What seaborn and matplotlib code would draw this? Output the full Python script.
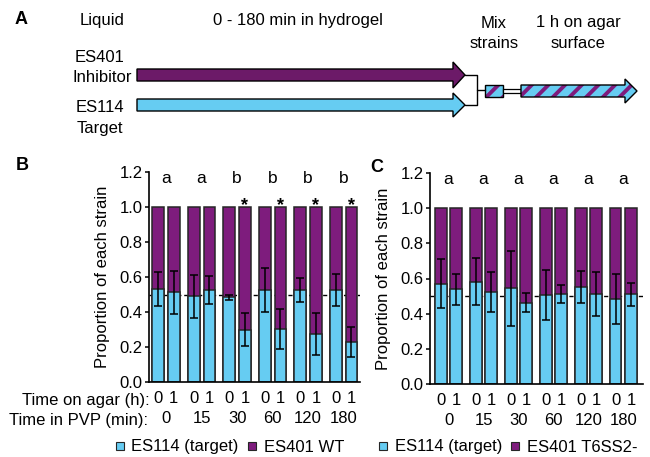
import numpy as np
import pandas as pd
import matplotlib
matplotlib.use("Agg")
import matplotlib.pyplot as plt
from matplotlib.patches import Polygon, Rectangle
from matplotlib.lines import Line2D
import seaborn as sns

# ---------------- data ----------------
pvp_times = ["0", "15", "30", "60", "120", "180"]
agar_times = ["0", "1"]

# Panel B: ES114 (target) vs ES401 WT -- target proportion (order: PVP time, agar 0 then 1)
wt_target_mean = [0.532, 0.513, 0.490, 0.527, 0.485, 0.300,
                  0.527, 0.305, 0.527, 0.275, 0.527, 0.228]
wt_target_err = [0.095, 0.122, 0.123, 0.080, 0.015, 0.095,
                 0.126, 0.115, 0.070, 0.120, 0.092, 0.087]
wt_total = [1.0, 1.0, 1.0, 1.0, 1.0, 1.0, 1.0, 1.0, 1.0, 1.0, 1.0, 1.0]
wt_letters = ["a", "a", "b", "b", "b", "b"]
wt_star = [False, False, True, True, True, True]

# Panel C: ES114 (target) vs ES401 T6SS2-
t6_target_mean = [0.571, 0.538, 0.582, 0.525, 0.544, 0.462,
                  0.506, 0.510, 0.552, 0.511, 0.483, 0.511]
t6_target_err = [0.139, 0.086, 0.133, 0.114, 0.215, 0.053,
                 0.140, 0.051, 0.091, 0.124, 0.141, 0.065]
t6_total = [1.0, 1.0, 1.0, 1.0, 1.0, 1.0, 1.0, 1.0, 1.0, 1.0, 1.0, 1.0]
t6_letters = ["a", "a", "a", "a", "a", "a"]
t6_star = [False, False, False, False, False, False]

PURPLE = "#7E1C7D"
PURPLE_ARROW = "#6C1A68"
CYAN = "#66CCF2"
EDGE = "#262626"

sns.set_style("ticks")
plt.rcParams['font.family'] = ['Liberation Sans', 'DejaVu Sans']
plt.rcParams['hatch.linewidth'] = 2.8
plt.rcParams['hatch.color'] = PURPLE
for k in ('text.color', 'axes.labelcolor', 'xtick.color', 'ytick.color'):
    plt.rcParams[k] = 'black'

fig = plt.figure(figsize=(6.5, 4.57), dpi=100)

# ---------------- panel A (schematic, pixel coords) ----------------
ax0 = fig.add_axes([0, 0, 1, 1], zorder=-1)
ax0.set_xlim(0, 650)
ax0.set_ylim(457, 0)
ax0.axis('off')

FS = 12
ax0.text(21, 19, "A", fontsize=13, fontweight='bold', ha='center', va='center')
ax0.text(102, 21, "Liquid", fontsize=FS, ha='center', va='center')
ax0.text(298, 21, "0 - 180 min in hydrogel", fontsize=FS, ha='center', va='center')
ax0.text(494, 23, "Mix", fontsize=FS, ha='center', va='center')
ax0.text(494, 43, "strains", fontsize=FS, ha='center', va='center')
ax0.text(578, 23, "1 h on agar", fontsize=FS, ha='center', va='center')
ax0.text(578, 43, "surface", fontsize=FS, ha='center', va='center')
ax0.text(100, 57, "ES401", fontsize=FS, ha='center', va='center')
ax0.text(102, 77, "Inhibitor", fontsize=FS, ha='center', va='center')
ax0.text(100, 108, "ES114", fontsize=FS, ha='center', va='center')
ax0.text(100, 128, "Target", fontsize=FS, ha='center', va='center')


def arrow_pts(x0, x1, xt, yc, bh, hh):
    return [(x0, yc - bh), (x1, yc - bh), (x1, yc - hh), (xt, yc),
            (x1, yc + hh), (x1, yc + bh), (x0, yc + bh)]


ax0.add_patch(Polygon(arrow_pts(137, 453, 465, 75, 6, 13), closed=True,
                      facecolor=PURPLE_ARROW, edgecolor='black', lw=1.0))
ax0.add_patch(Polygon(arrow_pts(137, 453, 465, 105, 6, 12), closed=True,
                      facecolor=CYAN, edgecolor='black', lw=1.0))
ax0.plot([465, 477, 477, 465], [75, 75, 105, 105], color='black', lw=1.0)
ax0.plot([477, 485], [90, 90], color='black', lw=1.0)
# mixed box
ax0.add_patch(Rectangle((485, 85), 18, 12, facecolor=CYAN, edgecolor=PURPLE, lw=0, hatch='//'))
ax0.add_patch(Rectangle((485, 85), 18, 12, fill=False, edgecolor='black', lw=1.0))
ax0.add_patch(Rectangle((503, 89), 18, 4, facecolor='white', edgecolor='black', lw=0.9))
# hatched arrow
hpts = arrow_pts(521, 625, 637, 91, 6, 12)
ax0.add_patch(Polygon(hpts, closed=True, facecolor=CYAN, edgecolor=PURPLE, lw=0, hatch='//'))
ax0.add_patch(Polygon(hpts, closed=True, fill=False, edgecolor='black', lw=1.0))

# ---------------- panels B and C ----------------
W, H = 650.0, 457.0
axB = fig.add_axes([149 / W, 1 - 382 / H, 211 / W, 210 / H])
axC = fig.add_axes([430 / W, 1 - 384 / H, 213 / W, 211 / H])


def panel(ax, totals, means, errs, letters, stars, xlim):
    df = pd.DataFrame({
        "pvp": np.repeat(pvp_times, 2),
        "agar": agar_times * len(pvp_times),
        "total": totals,
        "target": means,
    })
    common = dict(data=df, x="pvp", hue="agar", order=pvp_times, hue_order=agar_times,
                  width=0.88, gap=0.25, edgecolor=EDGE, linewidth=1.1, errorbar=None,
                  legend=False, saturation=1, ax=ax)
    sns.barplot(y="total", palette=[PURPLE, PURPLE], **common)
    n0 = len(ax.patches)
    sns.barplot(y="target", palette=[CYAN, CYAN], **common)
    cyan = sorted(ax.patches[n0:], key=lambda p: p.get_x())
    centers = [p.get_x() + p.get_width() / 2 for p in cyan]
    heights = [p.get_height() for p in cyan]
    ax.errorbar(centers, heights, yerr=errs, fmt='none', ecolor='black',
                elinewidth=1.1, capsize=3, capthick=1.1, zorder=5)
    ax.axhline(0.5, color='black', ls=(0, (3, 2)), lw=1.0, zorder=0.5)

    ax.set_ylim(0, 1.2)
    ax.set_xlim(*xlim)
    yt = np.round(np.arange(0, 1.21, 0.2), 1)
    ax.set_yticks(yt, labels=[f"{v:.1f}" for v in yt])
    ax.set_xticks(centers, labels=agar_times * len(pvp_times))
    ax.set_xticks(range(len(pvp_times)), labels=pvp_times, minor=True)
    ax.tick_params(axis='x', which='major', length=0, pad=6.5, labelsize=12)
    ax.tick_params(axis='x', which='minor', length=0, pad=21, labelsize=12)
    ax.tick_params(axis='y', length=3, width=1.1, pad=1.5, labelsize=12, color='black')
    ax.set_xlabel("")
    ax.set_ylabel("Proportion of each strain", fontsize=12)
    ax.yaxis.set_label_coords(-0.185, 0.5)
    for s in ("top", "right"):
        ax.spines[s].set_visible(False)
    for s in ("left", "bottom"):
        ax.spines[s].set_linewidth(1.2)
        ax.spines[s].set_color('black')

    for i, lt in enumerate(letters):
        ax.text(i, 1.137, lt, ha='center', va='baseline', fontsize=12.5)
    for i, st in enumerate(stars):
        if st:
            ax.text(centers[2 * i + 1], 0.985, "*", ha='center', va='baseline',
                    fontsize=13, fontweight='bold')


panel(axB, wt_total, wt_target_mean, wt_target_err, wt_letters, wt_star, (-0.48, 5.46))
panel(axC, t6_total, t6_target_mean, t6_target_err, t6_letters, t6_star, (-0.53, 5.56))

fig.text(22 / W, 1 - 165 / H, "B", fontsize=13, fontweight='bold', ha='center', va='center')
fig.text(377 / W, 1 - 168 / H, "C", fontsize=13, fontweight='bold', ha='center', va='center')
fig.text(150 / W, 1 - 400 / H, "Time on agar (h):", fontsize=12, ha='right', va='center')
fig.text(148 / W, 1 - 420 / H, "Time in PVP (min):", fontsize=12, ha='right', va='center')


def handle(c):
    return Line2D([], [], marker='s', ls='none', markerfacecolor=c,
                  markeredgecolor=EDGE, markeredgewidth=0.8, markersize=5.5)


leg_kw = dict(loc='center left', ncol=2, frameon=False, fontsize=12, handlelength=0.6,
              handletextpad=0.4, columnspacing=0.5, borderpad=0, borderaxespad=0)
fig.legend([handle(CYAN), handle(PURPLE)], ["ES114 (target)", "ES401 WT"],
           bbox_to_anchor=(114.5 / W, 1 - 447 / H), **leg_kw)
fig.legend([handle(CYAN), handle(PURPLE)], ["ES114 (target)", "ES401 T6SS2-"],
           bbox_to_anchor=(378 / W, 1 - 447 / H), **leg_kw)

fig.savefig("out.png", dpi=100)
